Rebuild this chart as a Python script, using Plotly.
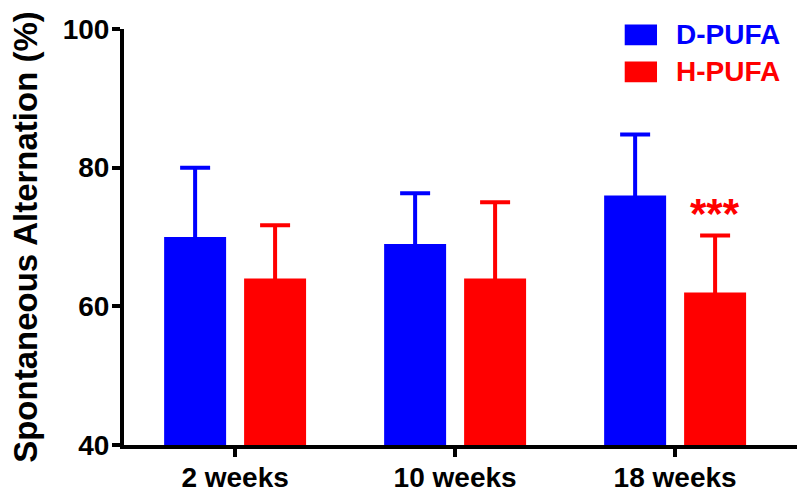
import plotly.graph_objects as go

categories = ["2 weeks", "10 weeks", "18 weeks"]
d_pufa = [70, 69, 76]
d_pufa_err = [10, 7.3, 8.8]
h_pufa = [64, 64, 62]
h_pufa_err = [7.7, 11, 8.2]
y_ticks = [40, 60, 80, 100]
series_names = ["D-PUFA", "H-PUFA"]
colors = ["#0000FF", "#FF0000"]
sig_label = "***"
sig_category = "18 weeks"
sig_y = 73.4

FONT = "Liberation Sans, Arial, sans-serif"

fig = go.Figure()
for name, vals, errs, col in [
    (series_names[0], d_pufa, d_pufa_err, colors[0]),
    (series_names[1], h_pufa, h_pufa_err, colors[1]),
]:
    fig.add_trace(go.Bar(
        x=categories, y=vals, name=name,
        marker=dict(color=col, line=dict(width=0)),
        error_y=dict(type="data", array=errs, symmetric=True,
                     color=col, thickness=4, width=15),
        showlegend=False,
    ))

# significance marker
fig.add_annotation(x=sig_category, y=sig_y, xref="x", yref="y", text=sig_label,
                   showarrow=False, xshift=40, yanchor="middle",
                   font=dict(family=FONT, size=42, color=colors[1], weight="bold"))

# manual legend
leg_y = [0.986, 0.897]
for i, (name, col) in enumerate(zip(series_names, colors)):
    fig.add_shape(type="rect", xref="paper", yref="paper",
                  x0=0.744, x1=0.792, y0=leg_y[i] - 0.025, y1=leg_y[i] + 0.025,
                  fillcolor=col, line=dict(width=0))
    fig.add_annotation(x=0.817, y=leg_y[i], xref="paper", yref="paper", text=name,
                       showarrow=False, xanchor="left", yanchor="middle",
                       font=dict(family=FONT, size=28, color=col, weight="bold"))

fig.update_layout(
    width=800, height=496,
    margin=dict(l=124, r=3, t=29, b=51, autoexpand=False),
    paper_bgcolor="white", plot_bgcolor="white",
    barmode="group", bargap=0.273, bargroupgap=0.225,
    font=dict(family=FONT, size=28, color="black", weight="bold"),
)
fig.update_xaxes(
    range=[-0.505, 2.554], showline=True, linecolor="black", linewidth=4,
    ticks="outside", ticklen=8, tickwidth=4, tickcolor="black",
    showgrid=False, zeroline=False, automargin=False, ticklabelstandoff=-4,
    tickfont=dict(family=FONT, size=28, color="black", weight="bold"),
)
fig.update_yaxes(
    range=[40, 100], tickvals=y_ticks, showline=True, linecolor="black", linewidth=4,
    ticks="outside", ticklen=8, tickwidth=4, tickcolor="black",
    showgrid=False, zeroline=False, automargin=False, ticklabelstandoff=-3,
    tickfont=dict(family=FONT, size=28, color="black", weight="bold"),
    title=dict(text="Spontaneous Alternation (%)", standoff=16,
               font=dict(family=FONT, size=33, color="black", weight="bold")),
)

fig.write_html("out.html", config={"displayModeBar": False},
               post_script="document.body.style.margin='0';document.body.style.overflow='hidden';")
